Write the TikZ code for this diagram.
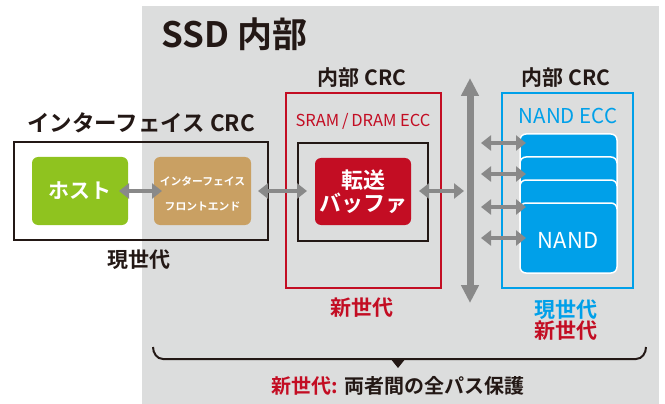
\documentclass[tikz,border=0pt]{standalone}
\usepackage{fontspec}
\setmainfont{Noto Sans CJK JP}[BoldFont={Noto Sans CJK JP Bold}]
\usetikzlibrary{arrows.meta}
\definecolor{bggray}{HTML}{DCDDDD}
\definecolor{newred}{HTML}{C30D23}
\definecolor{curblue}{HTML}{00A0E9}
\definecolor{hostgreen}{HTML}{8FC31F}
\definecolor{fetan}{HTML}{C9A063}
\definecolor{arrgray}{HTML}{898989}
\definecolor{txt}{HTML}{231815}
\tikzset{
  dbl/.style={line width=4.5pt, draw=arrgray, {Triangle[width=15pt,length=10pt]}-{Triangle[width=15pt,length=10pt]}},
  busarrow/.style={line width=7pt, draw=arrgray, {Triangle[width=17pt,length=18pt]}-{Triangle[width=17pt,length=18pt]}},
  card/.style={fill=curblue, draw=white, line width=1.5pt, rounded corners=6pt},
  lbl/.style={font=\bfseries\fontsize{21}{24}\selectfont, text=txt, inner sep=0pt},
}
\begin{document}
\begin{tikzpicture}[x=1pt,y=-1pt]
\useasboundingbox (0,0) rectangle (665,404);
\fill[bggray] (142,6) rectangle (659,404);
\node[anchor=west, font=\bfseries\fontsize{35}{38}\selectfont, text=txt, inner sep=0pt] (title) at (161,34) {SSD 内部};

% interface block
\draw[line width=1.5pt, draw=txt] (14,142) rectangle (268,240);
\node[lbl, font=\bfseries\fontsize{22.5}{24}\selectfont] (ifcrc) at (141,123) {インターフェイス CRC};
\fill[hostgreen, rounded corners=6pt] (32,157) rectangle (128,225);
\node[text=white, font=\bfseries\fontsize{21}{24}\selectfont, inner sep=0pt] (host) at (80,191) {ホスト};
\fill[fetan, rounded corners=6pt] (154,157) rectangle (251,225);
\node[text=white, font=\bfseries\fontsize{10.8}{25}\selectfont, align=center, inner sep=0pt] (fe) at (202.5,194) {インターフェイス\\フロントエンド};
\coordinate (hostR) at (128,191);
\coordinate (feL) at (154,191);
\coordinate (feR) at (251,191);
\node[lbl] (cur1) at (139,260) {現世代};

% SRAM/DRAM block
\node[lbl] (midcrc) at (362,78) {内部 CRC};
\draw[line width=1.5pt, draw=newred] (286,93) rectangle (441,288);
\node[text=newred, font=\fontsize{16.5}{18}\selectfont, inner sep=0pt] (sram) at (363,121) {SRAM\,/\,DRAM ECC};
\draw[line width=1.5pt, draw=txt] (298,143) rectangle (428,241);
\fill[newred, rounded corners=6pt] (315,158) rectangle (411,225);
\node[text=white, font=\bfseries\fontsize{22}{23}\selectfont, align=center, inner sep=0pt] (buf) at (363,192) {転送\\バッファ};
\coordinate (bufL) at (315,191);
\coordinate (bufR) at (411,191);
\node[lbl, text=newred] (new1) at (362,308) {新世代};

% bus
\coordinate (busT) at (470,78);
\coordinate (busB) at (470,303);
\coordinate (busL) at (464,191);
\draw[busarrow] (busT) -- (busB);

% NAND block
\node[lbl] (rcrc) at (566,78) {内部 CRC};
\draw[line width=1.5pt, draw=curblue] (502,93) rectangle (633,288);
\node[text=curblue, font=\fontsize{20.5}{22}\selectfont, inner sep=0pt] (necc) at (568,116) {NAND ECC};
\draw[card] (520,134) rectangle (617,202);
\draw[card] (520,157) rectangle (617,225);
\draw[card] (520,180) rectangle (617,248);
\draw[card] (520,203) rectangle (617,273);
\node[text=white, font=\fontsize{22}{24}\selectfont, inner sep=0pt] (nand) at (568,240) {NAND};
\node[lbl, text=curblue] (cur2) at (566,310) {現世代};
\node[lbl, text=newred] (new2) at (566,331) {新世代};

% arrows
\draw[dbl] ([xshift=-9pt]hostR) -- ([xshift=8pt]feL);
\draw[dbl] ([xshift=7pt]feR) -- ([xshift=-8pt]bufL);
\draw[dbl] ([xshift=8pt]bufR) -- (busL);
\foreach \yy/\nm in {143/a,174/b,207/c,238/d}{
  \coordinate (s\nm) at (481,\yy);
  \coordinate (e\nm) at (526,\yy);
  \draw[dbl] (s\nm) -- (e\nm);
}

% bracket
\draw[line width=2pt, draw=txt] (153,347) to[out=-90,in=180] (163,359) -- (636,359) to[out=0,in=-90] (646,347);
\fill[txt] (390,358) -- (406,358) -- (398,368) -- cycle;
\node[font=\bfseries\fontsize{20}{22}\selectfont, text=txt, inner sep=0pt] (summary) at (398,386) {\textcolor{newred}{新世代:} 両者間の全パス保護};
\end{tikzpicture}
\end{document}
